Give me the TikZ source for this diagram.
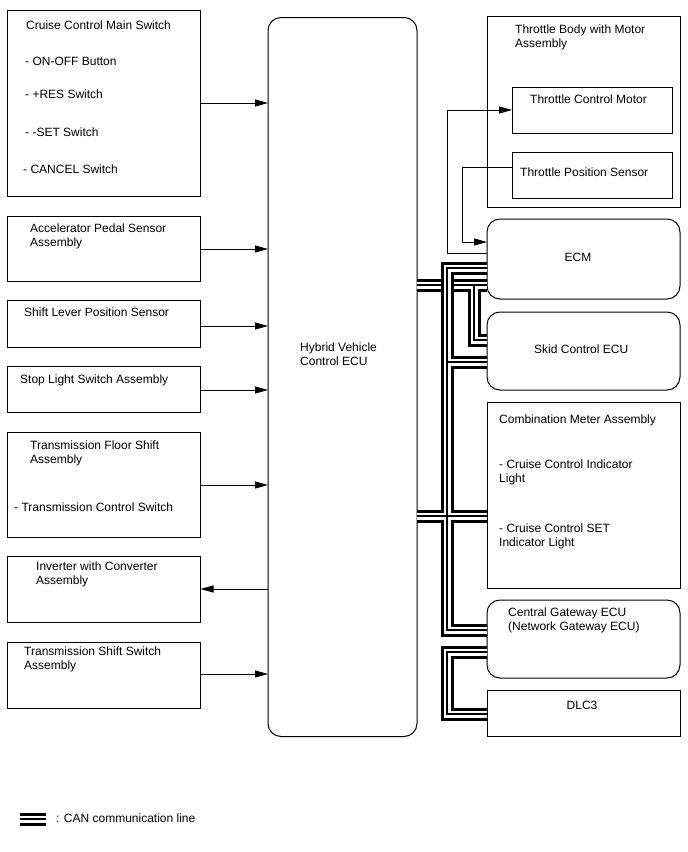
\documentclass[tikz,border=0pt]{standalone}
\usepackage{fontspec}
\setmainfont{Liberation Sans}
\usetikzlibrary{arrows.meta}
\begin{document}
\begin{tikzpicture}[x=1pt,y=-1pt,
  box/.style={draw, line width=1pt, anchor=north west, inner sep=0, outer sep=0},
  rbox/.style={box, rounded corners=13pt},
  txt/.style={anchor=base west, inner sep=0, align=left, font=\fontsize{12}{14}\selectfont},
  arr/.style={draw, line width=0.9pt, -{Triangle[length=13pt,width=7pt]}},
  canouter/.style={line width=13pt, black, line cap=butt, line join=miter},
  canwhite/.style={line width=7pt, white, line cap=butt, line join=miter},
  cancenter/.style={line width=2.2pt, black, line cap=butt, line join=miter}
]
\useasboundingbox (0,0) rectangle (688,852);
\fill[white] (0,0) rectangle (688,852);

% left boxes
\node[box, minimum width=193pt, minimum height=186pt] (ccms) at (7.5,10.5) {};
\node[box, minimum width=193pt, minimum height=65pt] (aps) at (7.5,216) {};
\node[box, minimum width=193pt, minimum height=47pt] (slp) at (7.5,300) {};
\node[box, minimum width=193pt, minimum height=46pt] (sls) at (7.5,366) {};
\node[box, minimum width=193pt, minimum height=105pt] (tfs) at (7.5,432) {};
\node[box, minimum width=193pt, minimum height=66pt] (inv) at (7.5,556) {};
\node[box, minimum width=193pt, minimum height=66pt] (tss) at (7.5,642) {};
% center
\node[rbox, minimum width=149pt, minimum height=719pt] (hv) at (268,17.5) {};
% right
\node[box, minimum width=193pt, minimum height=191pt] (tb) at (487,16.5) {};
\node[box, minimum width=160pt, minimum height=46pt] (tcm) at (512,87) {};
\node[box, minimum width=160pt, minimum height=46pt] (tps) at (512,152.5) {};
\node[rbox, minimum width=193pt, minimum height=80pt] (ecm) at (487,219) {};
\node[rbox, minimum width=193pt, minimum height=78pt] (skid) at (487,312) {};
\node[box, minimum width=193pt, minimum height=186pt] (cma) at (487,402) {};
\node[rbox, minimum width=193pt, minimum height=78pt] (cgw) at (487,600) {};
\node[box, minimum width=193pt, minimum height=46pt] (dlc) at (487,690) {};

% texts (multi-line nodes: base = last line)
\node[txt] (t1) at (26,29) {Cruise Control Main Switch};
\node[txt] (t2) at (25,65) {- ON-OFF Button};
\node[txt] (t3) at (25,98) {- +RES Switch};
\node[txt] (t4) at (25,136) {- -SET Switch};
\node[txt] (t5) at (23,173) {- CANCEL Switch};
\node[txt] (t6) at (30,246.5) {Accelerator Pedal Sensor\\Assembly};
\node[txt] (t7) at (24,316.5) {Shift Lever Position Sensor};
\node[txt] (t8) at (20,383.5) {Stop Light Switch Assembly};
\node[txt] (t9) at (30,463.5) {Transmission Floor Shift\\Assembly};
\node[txt] (t10) at (14,511.5) {- Transmission Control Switch};
\node[txt] (t11) at (36,584.5) {Inverter with Converter\\Assembly};
\node[txt] (t12) at (24,669.5) {Transmission Shift Switch\\Assembly};
\node[txt] (t13) at (300,365.5) {Hybrid Vehicle\\Control ECU};
\node[txt] (t14) at (515,47.5) {Throttle Body with Motor\\Assembly};
\node[txt] (t15) at (530,103) {Throttle Control Motor};
\node[txt] (t16) at (520,176.5) {Throttle Position Sensor};
\node[txt, anchor=base] (t17) at (578,261.5) {ECM};
\node[txt] (t18) at (534,353.5) {Skid Control ECU};
\node[txt] (t19) at (499,423.5) {Combination Meter Assembly};
\node[txt] (t20) at (499,482.5) {- Cruise Control Indicator\\Light};
\node[txt] (t21) at (499,546) {- Cruise Control SET\\Indicator Light};
\node[txt] (t22) at (508,630.5) {Central Gateway ECU\\(Network Gateway ECU)};
\node[txt, anchor=base] (t23) at (582,709.5) {DLC3};
\node[txt] (t24) at (56,822) {: CAN communication line};

% arrows to/from HV ECU
\coordinate (y1) at (0,103);
\coordinate (y2) at (0,249);
\coordinate (y3) at (0,326);
\coordinate (y4) at (0,390);
\coordinate (y5) at (0,485);
\coordinate (y6) at (0,589);
\coordinate (y7) at (0,674);
\draw[arr] (ccms.east |- y1) -- (hv.west |- y1);
\draw[arr] (aps.east |- y2) -- (hv.west |- y2);
\draw[arr] (slp.east |- y3) -- (hv.west |- y3);
\draw[arr] (sls.east |- y4) -- (hv.west |- y4);
\draw[arr] (tfs.east |- y5) -- (hv.west |- y5);
\draw[arr] (hv.west |- y6) -- (inv.east |- y6);
\draw[arr] (tss.east |- y7) -- (hv.west |- y7);

% throttle signals
\coordinate (m1) at (447,253);
\coordinate (m2) at (447,110);
\draw[arr] (m1 -| ecm.west) -- (m1) -- (m2) -- (m2 -| tcm.west);
\coordinate (p1) at (462,167);
\coordinate (p2) at (462,242);
\draw[arr] (p1 -| tps.west) -- (p1) -- (p2) -- (p2 -| ecm.west);

% CAN lines
\coordinate (b1) at (447,268);
\coordinate (b2) at (447,630);
\coordinate (h1) at (0,285);
\coordinate (s1) at (474,340);
\coordinate (j4) at (447,362);
\coordinate (h5) at (0,516);
\coordinate (d1) at (447,652);
\coordinate (d2) at (447,714);
\coordinate (l1) at (20,819);
\coordinate (l2) at (46,819);
% lower layer: HV ECU -> ECM and the branch to the Skid Control ECU
\newcommand\canlow[1]{%
  \draw[#1] (h1 -| hv.east) -- (h1 -| ecm.west);
  \draw[#1] (s1 |- h1) -- (s1) -- (s1 -| skid.west);
}
% upper layer: the bus
\newcommand\canhigh[1]{%
  \draw[#1] (b1 -| ecm.west) -- (b1) -- (b2) -- (b2 -| cgw.west);
  \draw[#1] (j4) -- (j4 -| skid.west);
  \draw[#1] (h5 -| hv.east) -- (h5 -| cma.west);
  \draw[#1] (d1 -| cgw.west) -- (d1) -- (d2) -- (d2 -| dlc.west);
  \draw[#1] (l1) -- (l2);
}
\canlow{canouter}
\canlow{canwhite}
\canlow{cancenter}
\canhigh{canouter}
\canhigh{canwhite}
\canhigh{cancenter}
\end{tikzpicture}
\end{document}
